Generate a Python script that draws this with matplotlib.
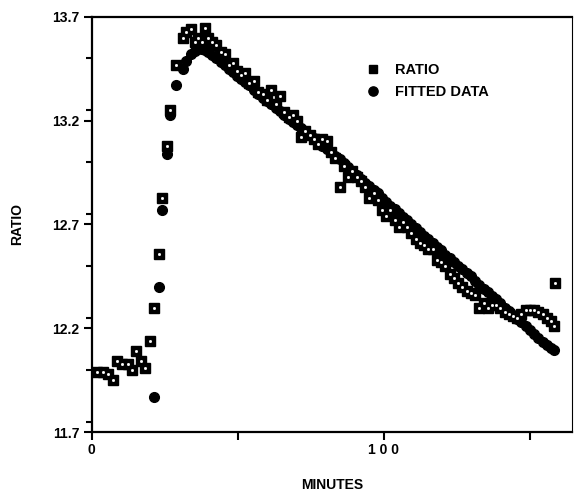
import numpy as np
import matplotlib.pyplot as plt
from matplotlib.ticker import MultipleLocator

plt.rcParams["font.family"] = ["Liberation Sans", "DejaVu Sans"]
plt.rcParams["font.weight"] = "bold"

# minutes, measured ratio, fitted ratio (nan = no fitted point)
minutes = [1.6, 3.9, 5.6, 7.3, 8.7, 10.5, 12.4, 13.8, 15.1, 16.8, 18.2, 19.9,
           21.2, 23.0, 24.2, 25.8, 26.9, 29.0, 31.1, 32.2, 33.9, 35.2, 36.4, 37.6,
           38.7, 39.8, 41.2, 42.7, 44.1, 45.5, 47.0, 48.4, 49.9, 51.2, 52.4, 53.9,
           55.6, 57.0, 58.5, 60.0, 61.5, 63.0, 64.5, 66.0, 67.5, 68.9, 70.4, 71.8,
           73.2, 74.7, 76.1, 77.6, 79.0, 80.5, 81.9, 83.4, 84.9, 86.3, 87.8, 89.2,
           90.7, 92.1, 93.6, 95.0, 96.5, 97.9, 99.4, 100.8, 102.3, 103.7, 105.2, 106.6,
           108.1, 109.5, 111.0, 112.4, 113.9, 115.3, 116.8, 118.2, 119.7, 121.1, 122.6, 124.0,
           125.5, 126.9, 128.4, 129.8, 131.3, 132.7, 134.2, 135.6, 137.1, 138.5, 140.0, 141.4,
           142.9, 144.3, 145.8, 147.2, 148.7, 150.1, 151.6, 153.0, 154.5, 155.9, 157.4, 158.5,
           158.8]

ratio = [11.99, 11.99, 11.98, 11.95, 12.04, 12.03, 12.03, 12.00, 12.09, 12.04, 12.01, 12.14,
         12.30, 12.56, 12.83, 13.08, 13.25, 13.47, 13.60, 13.63, 13.64, 13.58, 13.60, 13.58,
         13.645, 13.60, 13.58, 13.565, 13.53, 13.52, 13.47, 13.48, 13.44, 13.42, 13.43, 13.38,
         13.39, 13.34, 13.33, 13.30, 13.35, 13.28, 13.32, 13.24, 13.22, 13.23, 13.20, 13.12,
         13.15, 13.13, 13.11, 13.09, 13.11, 13.10, 13.05, 13.02, 12.88, 12.98, 12.93, 12.96,
         12.93, 12.91, 12.88, 12.83, 12.85, 12.82, 12.77, 12.74, 12.77, 12.72, 12.69, 12.71,
         12.69, 12.66, 12.63, 12.61, 12.60, 12.58, 12.58, 12.53, 12.52, 12.50, 12.46, 12.44,
         12.42, 12.40, 12.38, 12.37, 12.36, 12.30, 12.32, 12.30, 12.31, 12.31, 12.30, 12.28,
         12.27, 12.26, 12.25, 12.27, 12.29, 12.29, 12.29, 12.28, 12.27, 12.25, 12.235, 12.21,
         12.42]

nan = np.nan
fitted = [nan, nan, nan, nan, nan, nan, nan, nan, nan, nan, nan, nan,
          11.87, 12.40, 12.77, 13.04, 13.23, 13.37, 13.45, 13.49, 13.52, 13.535, 13.545, 13.545,
          13.54, 13.53, 13.515, 13.50, 13.485, 13.47, 13.45, 13.435, 13.415, 13.40, 13.385, 13.37,
          13.35, 13.33, 13.31, 13.295, 13.28, 13.26, 13.245, 13.23, 13.21, 13.195, 13.18, 13.165,
          13.15, 13.13, 13.115, 13.10, 13.08, 13.065, 13.05, 13.03, 13.015, 12.995, 12.975, 12.96,
          12.94, 12.92, 12.90, 12.885, 12.865, 12.85, 12.83, 12.81, 12.79, 12.775, 12.755, 12.735,
          12.72, 12.70, 12.685, 12.665, 12.645, 12.63, 12.61, 12.59, 12.575, 12.555, 12.54, 12.52,
          12.50, 12.485, 12.465, 12.45, 12.43, 12.41, 12.39, 12.375, 12.355, 12.34, 12.32, 12.30,
          12.285, 12.265, 12.245, 12.23, 12.21, 12.19, 12.17, 12.155, 12.135, 12.12, 12.105, 12.095,
          nan]

fig = plt.figure(figsize=(5.74, 4.94), dpi=100)
ax = fig.add_axes([0.160, 0.1255, 0.8365, 0.8401])

ax.plot(minutes, fitted, linestyle="none", marker="o", markersize=7,
        color="black", label="FITTED DATA")
ax.plot(minutes, ratio, linestyle="none", marker="s", markersize=6.5,
        markerfacecolor="black", markeredgecolor="black", label="RATIO")
# white speck inside each square, like the scan
ax.plot(minutes, ratio, linestyle="none", marker="s", markersize=1.0,
        markerfacecolor="white", markeredgecolor="white")

ax.set_xlim(0, 164.5)
ax.set_ylim(11.7, 13.7)
ax.set_xticks([0, 50, 100, 150])
ax.set_xticklabels(["0", "", "1 0 0", ""])
ax.set_yticks([11.7, 12.2, 12.7, 13.2, 13.7])
ax.set_yticklabels(["11.7", "12.2", "12.7", "13.2", "13.7"])
ax.yaxis.set_minor_locator(MultipleLocator(0.25))
ax.tick_params(axis="both", which="major", direction="out", length=6, width=1.5,
               labelsize=10, pad=3)
ax.tick_params(axis="x", which="major", pad=2)
ax.tick_params(axis="y", which="minor", direction="out", length=4, width=1.5)
for lab in ax.get_xticklabels() + ax.get_yticklabels():
    lab.set_fontweight("bold")
for s in ax.spines.values():
    s.set_linewidth(1.6)
ax.spines["right"].set_linewidth(0.8)

ax.set_xlabel("MINUTES", fontsize=10, fontweight="bold", labelpad=15)
ax.set_ylabel("RATIO", fontsize=10, fontweight="bold", labelpad=20)

h, l = ax.get_legend_handles_labels()
ax.legend([h[1], h[0]], [l[1], l[0]], loc="upper left", bbox_to_anchor=(0.528, 0.92),
          frameon=False, prop={"weight": "bold", "size": 10.5},
          handletextpad=0.5, labelspacing=0.5, markerscale=0.95)

fig.savefig("out.png", dpi=100)
